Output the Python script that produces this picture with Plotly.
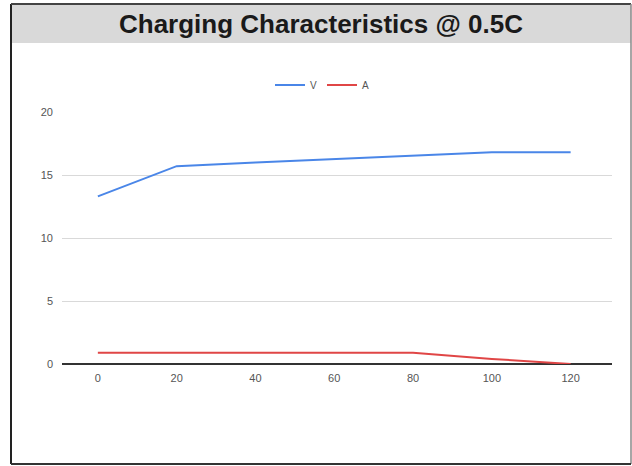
import plotly.graph_objects as go

x_vals = [0, 20, 40, 60, 80, 100, 120]
v_vals = [13.3, 15.7, 16.0, 16.25, 16.5, 16.8, 16.8]
a_vals = [0.9, 0.9, 0.9, 0.9, 0.9, 0.4, 0.0]
x_ticks = [0, 20, 40, 60, 80, 100, 120]
y_ticks = [0, 5, 10, 15, 20]
title_text = "Charging Characteristics @ 0.5C"

W, H = 632, 466
L, R, T, B = 62, 612, 112, 364

def px(x):
    return (x - L) / (R - L)

def py(y):
    return (B - y) / (B - T)

fig = go.Figure()
fig.add_trace(go.Scatter(x=x_vals, y=v_vals, mode="lines", name="V",
                         line=dict(color="#4a86e8", width=2)))
fig.add_trace(go.Scatter(x=x_vals, y=a_vals, mode="lines", name="A",
                         line=dict(color="#e04646", width=2)))

font_family = "Liberation Sans, Arial, sans-serif"

shapes = [
    dict(type="rect", xref="paper", yref="paper", x0=px(11), x1=px(631), y0=py(43), y1=py(4),
         fillcolor="#d9d9d9", line=dict(width=0), layer="below"),
    dict(type="line", xref="paper", yref="paper", x0=px(11), x1=px(11), y0=py(4), y1=py(464),
         line=dict(color="#222222", width=2)),
    dict(type="line", xref="paper", yref="paper", x0=px(11), x1=px(631), y0=py(4), y1=py(4),
         line=dict(color="#444444", width=2)),
    dict(type="line", xref="paper", yref="paper", x0=px(631), x1=px(631), y0=py(4), y1=py(464),
         line=dict(color="#888888", width=1.5)),
    dict(type="line", xref="paper", yref="paper", x0=px(11), x1=px(631), y0=py(464), y1=py(464),
         line=dict(color="#333333", width=2)),
]

fig.update_layout(
    width=W, height=H,
    margin=dict(l=L, r=W - R, t=T, b=H - B),
    paper_bgcolor="white", plot_bgcolor="white",
    showlegend=True,
    legend=dict(orientation="h", x=px(322), xanchor="center", y=py(85), yanchor="middle",
                font=dict(family=font_family, size=10, color="#555555"),
                itemwidth=30, bgcolor="rgba(0,0,0,0)"),
    shapes=shapes,
    annotations=[dict(text="<b>" + title_text + "</b>", xref="paper", yref="paper",
                      x=px(321), y=py(24), xanchor="center", yanchor="middle",
                      showarrow=False, font=dict(family=font_family, size=26, color="#1a1a1a"))],
    font=dict(family=font_family),
)

fig.update_xaxes(range=[-9.1, 130.5], tickvals=x_ticks, showgrid=False, zeroline=False,
                 showline=False, ticks="", tickfont=dict(size=11, color="#555555"),
                 ticklabelstandoff=6)
fig.update_yaxes(range=[0, 20], tickvals=y_ticks, showgrid=True, gridcolor="#d9d9d9",
                 gridwidth=1, zeroline=True, zerolinecolor="#333333", zerolinewidth=1.5,
                 showline=False, ticks="", tickfont=dict(size=11, color="#555555"),
                 ticklabelstandoff=8)

fig.write_html("out.html", config={"displayModeBar": False},
               post_script="document.body.style.margin='0px';document.body.style.overflow='hidden';")
